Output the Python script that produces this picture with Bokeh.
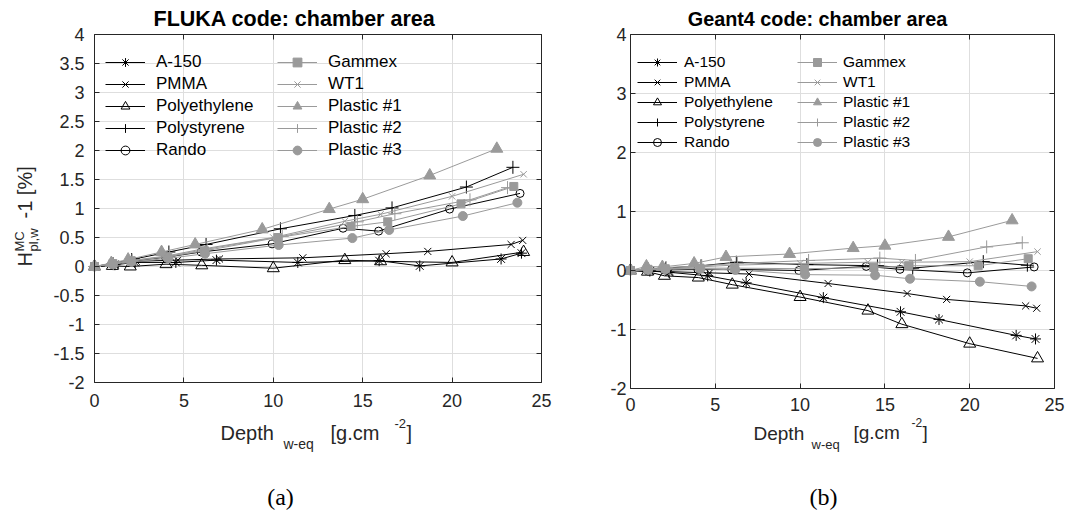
import math
from bokeh.plotting import figure
from bokeh.models import (Range1d, FixedTicker, LinearAxis, Label, Legend,
                          LegendItem, PrintfTickFormatter, Grid)
from bokeh.layouts import row
from bokeh.embed import file_html
from bokeh.resources import INLINE

# ---------------- data ----------------
materials = ["A-150", "PMMA", "Polyethylene", "Polystyrene", "Rando",
             "Gammex", "WT1", "Plastic #1", "Plastic #2", "Plastic #3"]

depth_a150 = [0, 1.14, 2.27, 4.55, 6.82, 11.37, 15.92, 18.19, 22.74, 23.88]
depth_pmma = [0, 1.17, 2.33, 4.66, 6.99, 11.65, 16.31, 18.64, 23.30, 23.95]
depth_polyethylene = [0, 1, 2, 4, 6, 10, 14, 16, 20, 24]
depth_polystyrene = [0, 1.04, 2.08, 4.16, 6.24, 10.4, 14.56, 16.64, 20.8, 23.4]
depth_rando = [0, 0.99, 1.99, 3.97, 5.96, 9.93, 13.9, 15.89, 19.86, 23.8]
depth_gammex = [0, 1.03, 2.05, 4.1, 6.15, 10.25, 14.35, 16.4, 20.5, 23.45]
depth_wt1 = [0, 1, 2, 4, 6, 10, 14, 16, 20, 24]
depth_plastic1 = [0, 0.94, 1.88, 3.75, 5.63, 9.38, 13.13, 15.0, 18.75, 22.5]
depth_plastic2 = [0, 1.05, 2.1, 4.2, 6.3, 10.5, 14.7, 16.8, 21.0, 23.1]
depth_plastic3 = [0, 1.03, 2.06, 4.12, 6.18, 10.3, 14.42, 16.48, 20.6, 23.65]

fluka_a150 = [0, 0.03, 0.07, 0.07, 0.11, 0.07, 0.10, 0.01, 0.13, 0.23]
fluka_pmma = [0, 0.04, 0.09, 0.11, 0.13, 0.15, 0.22, 0.26, 0.38, 0.45]
fluka_polyethylene = [0, 0.01, 0.0, 0.04, 0.02, -0.03, 0.11, 0.09, 0.07, 0.25]
fluka_polystyrene = [0, 0.05, 0.12, 0.25, 0.38, 0.65, 0.88, 1.01, 1.37, 1.71]
fluka_rando = [0, 0.04, 0.09, 0.16, 0.25, 0.39, 0.66, 0.61, 0.99, 1.26]
fluka_gammex = [0, 0.05, 0.10, 0.17, 0.27, 0.50, 0.69, 0.77, 1.08, 1.38]
fluka_wt1 = [0, 0.05, 0.10, 0.18, 0.30, 0.50, 0.78, 0.90, 1.21, 1.59]
fluka_plastic1 = [0, 0.06, 0.12, 0.25, 0.38, 0.64, 0.99, 1.16, 1.57, 2.03]
fluka_plastic2 = [0, 0.05, 0.10, 0.18, 0.30, 0.52, 0.77, 0.91, 1.15, 1.36]
fluka_plastic3 = [0, 0.04, 0.08, 0.14, 0.22, 0.37, 0.49, 0.63, 0.87, 1.10]

geant4_a150 = [0, -0.01, -0.03, -0.09, -0.21, -0.46, -0.70, -0.83, -1.10, -1.16]
geant4_pmma = [0, -0.01, -0.02, -0.04, -0.06, -0.22, -0.39, -0.49, -0.60, -0.64]
geant4_polyethylene = [0, -0.02, -0.09, -0.12, -0.24, -0.45, -0.68, -0.91, -1.24, -1.49]
geant4_polystyrene = [0, 0.02, 0.04, 0.08, 0.14, 0.10, 0.08, 0.04, 0.15, 0.09]
geant4_rando = [0, 0.0, 0.01, 0.02, 0.02, 0.0, 0.07, 0.02, -0.04, 0.06]
geant4_gammex = [0, 0.02, 0.03, 0.04, 0.04, 0.03, 0.05, 0.08, 0.08, 0.20]
geant4_wt1 = [0, 0.02, 0.03, 0.06, 0.09, 0.12, 0.14, 0.14, 0.15, 0.32]
geant4_plastic1 = [0, 0.07, 0.06, 0.12, 0.23, 0.28, 0.38, 0.42, 0.57, 0.85]
geant4_plastic2 = [0, 0.03, 0.05, 0.08, 0.12, 0.17, 0.21, 0.17, 0.40, 0.47]
geant4_plastic3 = [0, 0.01, 0.02, 0.03, 0.01, -0.07, -0.08, -0.14, -0.19, -0.27]

x_ticks = [0, 5, 10, 15, 20, 25]
y_ticks_fluka = [-2, -1.5, -1, -0.5, 0, 0.5, 1, 1.5, 2, 2.5, 3, 3.5, 4]
y_ticks_geant4 = [-2, -1, 0, 1, 2, 3, 4]
titles = ["FLUKA code: chamber area", "Geant4 code: chamber area"]
captions = ["(a)", "(b)"]

depths = dict(zip(materials, [depth_a150, depth_pmma, depth_polyethylene,
                              depth_polystyrene, depth_rando, depth_gammex,
                              depth_wt1, depth_plastic1, depth_plastic2,
                              depth_plastic3]))
fluka = dict(zip(materials, [fluka_a150, fluka_pmma, fluka_polyethylene,
                             fluka_polystyrene, fluka_rando, fluka_gammex,
                             fluka_wt1, fluka_plastic1, fluka_plastic2,
                             fluka_plastic3]))
geant4 = dict(zip(materials, [geant4_a150, geant4_pmma, geant4_polyethylene,
                              geant4_polystyrene, geant4_rando, geant4_gammex,
                              geant4_wt1, geant4_plastic1, geant4_plastic2,
                              geant4_plastic3]))

# ---------------- styles ----------------
BLACK = "#000000"
GRAY = "#9a9a9a"
AX = "#262626"
GRID = "#dedede"
FONT = "Liberation Sans"
SERIF = "Liberation Serif"
PAGE_H = 511

styles = {
    "A-150": ("asterisk", 11, BLACK, False),
    "PMMA": ("x", 10, BLACK, False),
    "Polyethylene": ("triangle", 12, BLACK, False),
    "Polystyrene": ("cross", 13, BLACK, False),
    "Rando": ("circle", 8, BLACK, False),
    "Gammex": ("square", 8, GRAY, True),
    "WT1": ("x", 9, GRAY, False),
    "Plastic #1": ("triangle", 12, GRAY, True),
    "Plastic #2": ("cross", 13, GRAY, False),
    "Plastic #3": ("circle", 9, GRAY, True),
}

# page-pixel layout of each panel (canvas left edge, data box)
left_cfg = dict(
    cx=0, width=568, box=(94, 541, 34, 382),
    tick_font="18px", xstand=11, ystand=10,
    title_x=294, title_y=18.5, title_size="21.5px",
    cap_x=280, cap_y=496,
    leg_font="17px", leg_gh=22,
    leg1=(105, 51, 11), leg2=(277, 51, 11),
    xlabel=[("Depth", 220, 432, 20), ("w-eq", 283, 443, 14),
            ("[g.cm", 330, 432, 20), ("-2", 394, 423, 13), ("]", 406, 432, 20)],
    ylabel=[("H", 24, 266, 20), ("MC", 19, 251, 13), ("pl,w", 33, 251, 13),
            ("-1 [%]", 24, 218, 20)],
)
right_cfg = dict(
    cx=568, width=520, box=(630, 1054, 34, 388),
    tick_font="18px", xstand=9, ystand=4,
    title_x=817, title_y=18.5, title_size="19.8px",
    cap_x=823, cap_y=496,
    leg_font="15.5px", leg_gh=20,
    leg1=(637, 52, 7), leg2=(797, 52, 6),
    xlabel=[("Depth", 753, 433, 19), ("w-eq", 811, 444, 13),
            ("[g.cm", 853, 432, 19), ("-2", 911, 422, 12), ("]", 922, 432, 19)],
    ylabel=[],
)


def style_axis(ax, font, standoff, hide=False):
    ax.axis_line_color = AX
    ax.major_tick_line_color = AX
    ax.major_tick_in = 5
    ax.major_tick_out = 0
    ax.minor_tick_line_color = None
    ax.formatter = PrintfTickFormatter(format="%g")
    ax.major_label_text_font = FONT
    ax.major_label_text_font_size = font
    ax.major_label_text_color = AX
    ax.major_label_standoff = standoff
    if hide:
        ax.major_label_text_alpha = 0


def make_panel(values, yticks, title, caption, c):
    x0, x1, y0, y1 = c["box"]
    cx, W = c["cx"], c["width"]
    sx = (x1 - x0) / 25.0
    sy = (y1 - y0) / 6.0
    xr = Range1d(-(x0 - cx) / sx, 25 + (cx + W - x1) / sx)
    yr = Range1d(-2 - (PAGE_H - y1) / sy, 4 + y0 / sy)
    p = figure(width=W, height=PAGE_H, x_range=xr, y_range=yr,
               output_backend="svg", toolbar_location=None,
               x_axis_type=None, y_axis_type=None,
               min_border=0, outline_line_color=None)

    xt = FixedTicker(ticks=x_ticks)
    yt = FixedTicker(ticks=yticks)
    p.add_layout(Grid(dimension=0, ticker=xt, bounds=(0, 25),
                      cross_bounds=(-2, 4), grid_line_color=GRID))
    p.add_layout(Grid(dimension=1, ticker=yt, bounds=(-2, 4),
                      cross_bounds=(0, 25), grid_line_color=GRID))

    items = []
    for m in materials:
        marker, size, col, filled = styles[m]
        lr = p.line(depths[m], values[m], line_color=col, line_width=1)
        sr = p.scatter(depths[m], values[m], marker=marker, size=size,
                       line_color=col, line_width=1,
                       fill_color=col if filled else None)
        items.append(LegendItem(label=m, renderers=[lr, sr]))

    bottom = LinearAxis(fixed_location=-2, bounds=(0, 25), ticker=xt)
    style_axis(bottom, c["tick_font"], c["xstand"])
    p.add_layout(bottom, "below")
    left = LinearAxis(fixed_location=0, bounds=(-2, 4), ticker=yt)
    style_axis(left, c["tick_font"], c["ystand"])
    p.add_layout(left, "left")
    top = LinearAxis(fixed_location=4, bounds=(0, 25), ticker=xt)
    style_axis(top, "1px", 0, hide=True)
    p.add_layout(top, "above")
    right = LinearAxis(fixed_location=25, bounds=(-2, 4), ticker=yt)
    style_axis(right, "1px", 0, hide=True)
    p.add_layout(right, "right")

    gh = c["leg_gh"]
    for (gx, gy, stand), its in ((c["leg1"], items[:5]), (c["leg2"], items[5:])):
        leg = Legend(items=its, location=(gx - cx, PAGE_H - (gy + 5 * gh)),
                     glyph_width=40, glyph_height=gh, label_height=gh,
                     label_standoff=stand, spacing=0, padding=0, margin=0,
                     background_fill_alpha=0, border_line_alpha=0,
                     label_text_font=FONT, label_text_font_size=c["leg_font"],
                     label_text_color=BLACK)
        p.add_layout(leg)

    def lab(text, px, py, size, **kw):
        p.add_layout(Label(x=px - cx, y=PAGE_H - py, x_units="screen",
                           y_units="screen", text=text,
                           text_font=kw.pop("font", FONT),
                           text_font_size=size, text_color=kw.pop("color", AX),
                           text_baseline="middle",
                           text_align=kw.pop("align", "left"), **kw))

    lab(title, c["title_x"], c["title_y"], c["title_size"], align="center",
        text_font_style="bold", color=BLACK)
    lab(caption, c["cap_x"], c["cap_y"], "24px", align="center", font=SERIF,
        color=BLACK)
    for t, x, y, s in c["xlabel"]:
        lab(t, x, y, f"{s}px")
    for t, x, y, s in c["ylabel"]:
        lab(t, x, y, f"{s}px", angle=math.pi / 2)
    return p


p1 = make_panel(fluka, y_ticks_fluka, titles[0], captions[0], left_cfg)
p2 = make_panel(geant4, y_ticks_geant4, titles[1], captions[1], right_cfg)
layout = row(p1, p2)

open("out.html", "w").write(file_html(layout, INLINE))
